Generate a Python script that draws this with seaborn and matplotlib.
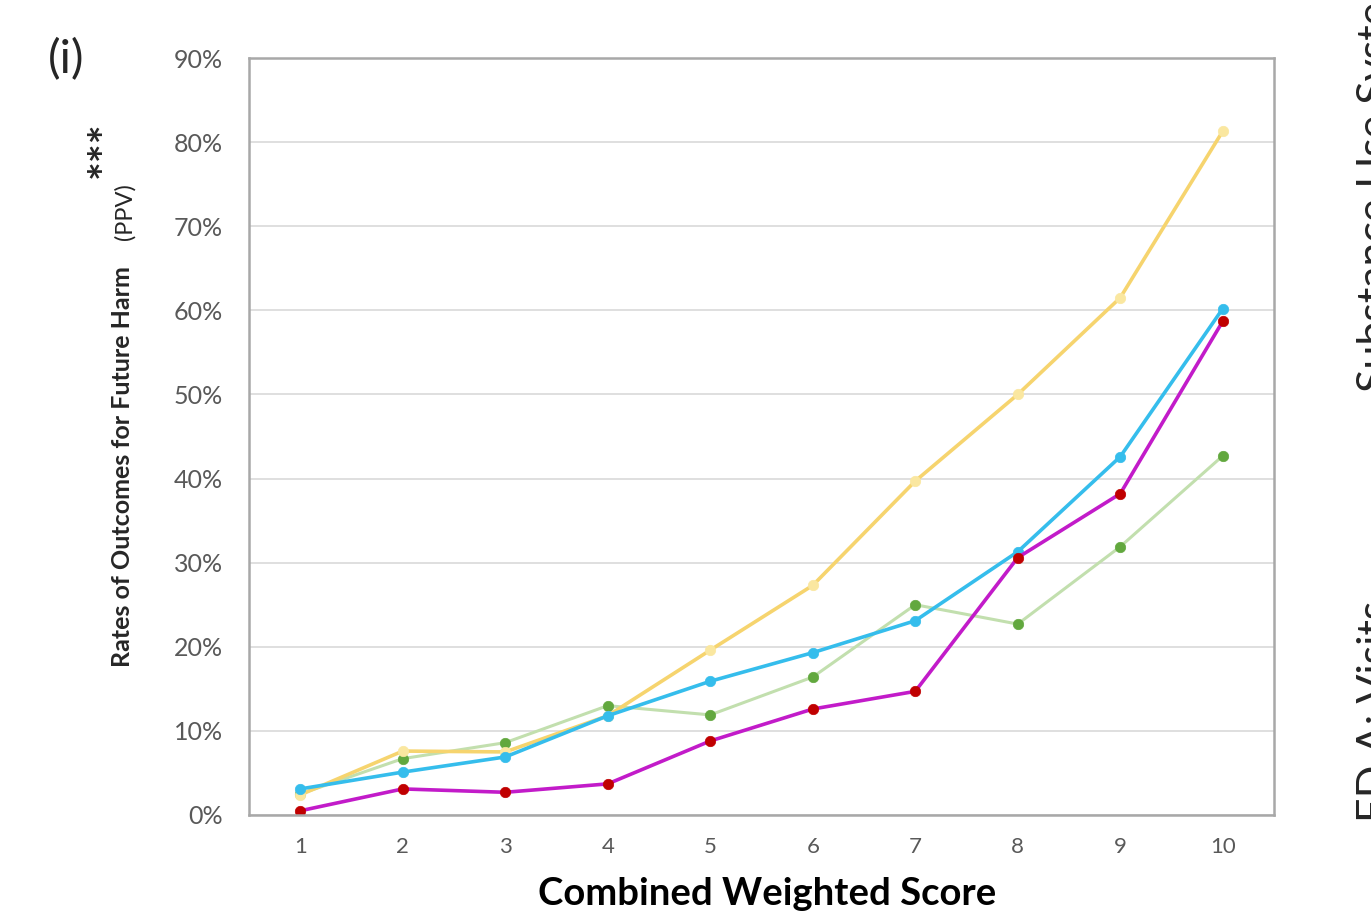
import pandas as pd
import matplotlib.pyplot as plt
import seaborn as sns
from matplotlib.ticker import PercentFormatter

# data (PPV by combined weighted score)
scores = [1, 2, 3, 4, 5, 6, 7, 8, 9, 10]
green_vals = [2.5, 6.7, 8.6, 13.0, 11.9, 16.4, 25.0, 22.7, 31.9, 42.7]
yellow_vals = [2.4, 7.6, 7.5, 11.8, 19.6, 27.3, 39.7, 50.0, 61.5, 81.3]
blue_vals = [3.1, 5.1, 6.9, 11.8, 15.9, 19.3, 23.1, 31.3, 42.6, 60.2]
magenta_vals = [0.5, 3.1, 2.7, 3.7, 8.8, 12.6, 14.7, 30.6, 38.2, 58.7]
y_ticks = [0, 10, 20, 30, 40, 50, 60, 70, 80, 90]

sns.set_theme(style="white")
plt.rcParams['font.family'] = ['Lato', 'DejaVu Sans']

fig = plt.figure(figsize=(13.71, 9.11), dpi=100)
ax = fig.add_axes([249 / 1371, 1 - 815 / 911, (1274 - 249) / 1371, (815 - 58) / 911])

# (values, line colour, marker colour, line width)
series = [
    (green_vals, "#C2DFAE", "#62A83E", 2.2),
    (yellow_vals, "#F6D46E", "#FAE7A0", 2.6),
    (blue_vals, "#35BDEC", "#35BDEC", 2.6),
    (magenta_vals, "#C21BC9", "#C00000", 2.6),
]
for vals, lc, mc, lw in series:
    df = pd.DataFrame({"score": scores, "ppv": vals})
    sns.lineplot(data=df, x="score", y="ppv", ax=ax, color=lc, lw=lw,
                 marker="o", markersize=7.5, markerfacecolor=mc,
                 markeredgecolor=mc, markeredgewidth=0.5)

ax.set_xlim(0.5, 10.5)
ax.set_ylim(0, 90)
ax.set_xticks(scores)
ax.set_yticks(y_ticks)
ax.yaxis.set_major_formatter(PercentFormatter(decimals=0))
ax.grid(axis="y", color="#DCDCDC", lw=1.3)
ax.grid(axis="x", visible=False)
for sp in ax.spines.values():
    sp.set_color("#A8A8A8")
    sp.set_linewidth(1.8)
ax.tick_params(axis="y", labelsize=18, colors="#595959", length=0, pad=19)
ax.tick_params(axis="x", labelsize=16, colors="#595959", length=0, pad=16)
ax.set_xlabel("")
ax.set_ylabel("")

# axis titles
fig.text(767 / 1371, 1 - 905 / 911, "Combined Weighted Score", fontsize=27.5,
         fontweight="bold", color="black", ha="center", va="baseline")
fig.text(123 / 1371, 1 - 467 / 911, "Rates of Outcomes for Future Harm",
         fontsize=18, fontweight="bold", rotation=90, ha="center", va="center")
fig.text(125 / 1371, 1 - 212 / 911, "(PPV)", fontsize=17, rotation=90,
         ha="center", va="center")
fig.text(106 / 1371, 1 - 150 / 911, "***", fontsize=32, fontweight="bold",
         rotation=90, ha="center", va="center")
fig.text(66 / 1371, 1 - 60 / 911, "(i)", fontsize=34, ha="center", va="center")

# clipped text from the neighbouring panel
fig.text(1357 / 1371, 1 - 392 / 911, "Substance Use System", fontsize=31,
         rotation=90, ha="left", va="bottom")
fig.text(1357 / 1371, 1 - 822 / 911, "ED A: Visits", fontsize=31,
         rotation=90, ha="left", va="bottom")

fig.savefig("out.png", dpi=100)
